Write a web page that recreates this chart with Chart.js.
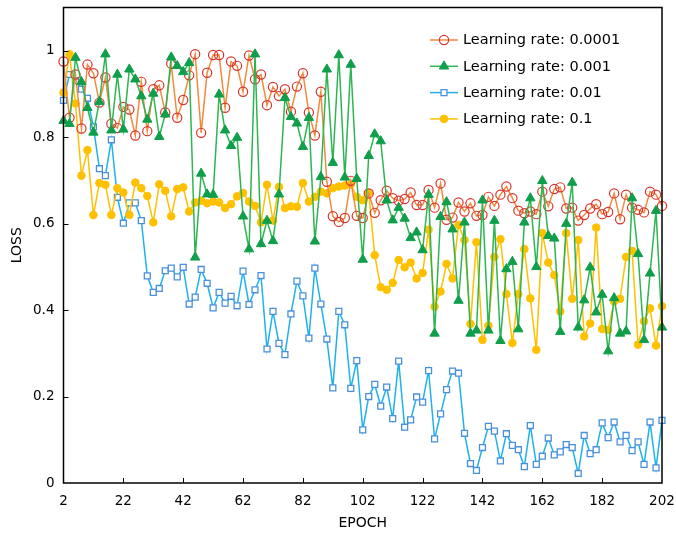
<!DOCTYPE html>
<html>
<head>
<meta charset="utf-8">
<script src="https://cdn.jsdelivr.net/npm/chart.js@4/dist/chart.umd.min.js"></script>
<style>
  html, body { margin: 0; padding: 0; background: #fff; }
  #wrap { width: 676px; height: 533px; }
</style>
</head>
<body>
<div id="wrap"><canvas id="c" width="676" height="533"></canvas></div>
<script>
// Training epochs (x positions of every sample)
const epochs = [2,4,6,8,10,12,14,16,18,20,22,24,26,28,30,32,34,36,38,40,
  42,44,46,48,50,52,54,56,58,60,62,64,66,68,70,72,74,76,78,80,
  82,84,86,88,90,92,94,96,98,100,102,104,106,108,110,112,114,116,118,120,
  122,124,126,128,130,132,134,136,138,140,142,144,146,148,150,152,154,156,158,160,
  162,164,166,168,170,172,174,176,178,180,182,184,186,188,190,192,194,196,198,200,202];

const xTicks = [2,22,42,62,82,102,122,142,162,182,202];
const yTicks = [0,0.2,0.4,0.6,0.8,1];

const labels = ['Learning rate: 0.0001','Learning rate: 0.001','Learning rate: 0.01','Learning rate: 0.1'];

// Loss per epoch, learning rate 0.0001
const loss_lr1e4 = [0.975,0.845,0.945,0.820,0.968,0.948,0.880,0.938,0.831,0.821,
  0.870,0.864,0.804,0.928,0.814,0.911,0.920,0.857,0.970,0.845,
  0.886,0.943,0.992,0.810,0.949,0.990,0.990,0.868,0.975,0.965,
  0.905,0.989,0.934,0.945,0.874,0.916,0.895,0.911,0.859,0.917,
  0.948,0.857,0.804,0.905,0.697,0.617,0.604,0.613,0.699,0.618,
  0.613,0.670,0.625,0.654,0.676,0.659,0.653,0.657,0.672,0.643,
  0.643,0.678,0.637,0.693,0.609,0.614,0.649,0.628,0.647,0.618,
  0.620,0.662,0.641,0.667,0.686,0.659,0.630,0.624,0.628,0.622,
  0.674,0.640,0.680,0.684,0.635,0.637,0.607,0.620,0.635,0.645,
  0.622,0.627,0.670,0.610,0.667,0.637,0.632,0.626,0.674,0.667,0.641];

// Loss per epoch, learning rate 0.001
const loss_lr1e3 = [0.838,0.831,0.984,0.928,0.868,0.811,0.882,0.992,0.816,0.945,
  0.818,0.957,0.934,0.895,0.841,0.901,0.801,0.853,0.985,0.965,
  0.951,0.972,0.522,0.716,0.668,0.667,0.899,0.816,0.780,0.799,
  0.617,0.541,0.992,0.553,0.607,0.560,0.668,0.891,0.847,0.832,
  0.778,0.845,0.559,0.708,0.957,0.741,0.990,0.707,0.968,0.704,
  0.517,0.757,0.807,0.791,0.654,0.608,0.637,0.612,0.567,0.580,
  0.539,0.667,0.346,0.616,0.650,0.587,0.422,0.603,0.346,0.353,
  0.654,0.353,0.607,0.329,0.495,0.512,0.356,0.603,0.659,0.500,
  0.699,0.572,0.566,0.350,0.600,0.695,0.360,0.423,0.499,0.395,
  0.436,0.305,0.428,0.346,0.351,0.659,0.530,0.331,0.485,0.630,0.360];

// Loss per epoch, learning rate 0.01
const loss_lr1e2 = [0.885,0.945,0.931,0.911,0.890,0.824,0.727,0.711,0.794,0.661,
  0.601,0.648,0.648,0.607,0.479,0.441,0.450,0.491,0.497,0.477,
  0.499,0.414,0.430,0.494,0.462,0.405,0.441,0.416,0.432,0.410,
  0.490,0.413,0.447,0.480,0.310,0.397,0.323,0.297,0.391,0.467,
  0.433,0.335,0.497,0.414,0.333,0.220,0.397,0.366,0.219,0.283,
  0.123,0.200,0.228,0.178,0.222,0.149,0.282,0.129,0.146,0.199,
  0.187,0.260,0.102,0.160,0.216,0.259,0.254,0.115,0.045,0.029,
  0.082,0.131,0.120,0.051,0.114,0.087,0.077,0.038,0.133,0.043,
  0.062,0.104,0.065,0.072,0.089,0.082,0.022,0.110,0.068,0.077,
  0.139,0.105,0.141,0.095,0.110,0.075,0.095,0.043,0.141,0.035,0.145];

// Loss per epoch, learning rate 0.1
const loss_lr1e1 = [0.903,0.992,0.878,0.711,0.770,0.620,0.694,0.690,0.620,0.682,
  0.672,0.620,0.695,0.682,0.664,0.603,0.691,0.676,0.617,0.680,
  0.684,0.628,0.649,0.653,0.647,0.651,0.649,0.636,0.645,0.663,
  0.671,0.651,0.641,0.603,0.690,0.607,0.685,0.636,0.640,0.639,
  0.694,0.651,0.662,0.674,0.670,0.682,0.686,0.688,0.691,0.662,
  0.654,0.671,0.527,0.453,0.447,0.463,0.516,0.499,0.510,0.473,
  0.486,0.586,0.408,0.443,0.507,0.473,0.597,0.562,0.368,0.557,
  0.331,0.364,0.523,0.564,0.437,0.324,0.437,0.541,0.427,0.308,
  0.578,0.510,0.481,0.397,0.578,0.426,0.562,0.339,0.369,0.591,
  0.356,0.354,0.420,0.426,0.523,0.537,0.320,0.374,0.404,0.318,0.409];

const toPoints = arr => epochs.map((e, i) => ({ x: e, y: arr[i] }));

const FONT = 'DejaVu Sans, Verdana, sans-serif';
Chart.defaults.font.family = FONT;
Chart.defaults.color = '#000';

const series = [
  { label: labels[0], data: loss_lr1e4, line: '#F28A3E', marker: '#D9342B', fill: 'rgba(255,255,255,0)', style: 'circle', r: 4.6, bw: 1.2, order: 2 },
  { label: labels[1], data: loss_lr1e3, line: '#2DB552', marker: '#0F9E4A', fill: '#0F9E4A', style: 'triangle', r: 5.4, bw: 1, order: 1 },
  { label: labels[2], data: loss_lr1e2, line: '#1DB2EC', marker: '#4A8FDC', fill: '#ffffff', style: 'rect', r: 4.2, bw: 1.3, order: 4 },
  { label: labels[3], data: loss_lr1e1, line: '#FFC000', marker: '#FFC000', fill: '#FFC000', style: 'circle', r: 3.8, bw: 1, order: 3 }
];

// Draws one marker shape the same way the datasets do
function marker(ctx, s, x, y) {
  ctx.save();
  ctx.beginPath();
  if (s.style === 'circle') {
    ctx.arc(x, y, s.r, 0, Math.PI * 2);
  } else if (s.style === 'triangle') {
    const r = s.r;
    ctx.moveTo(x, y - r);
    ctx.lineTo(x + r * Math.sin(Math.PI * 2 / 3), y - r * Math.cos(Math.PI * 2 / 3));
    ctx.lineTo(x + r * Math.sin(Math.PI * 4 / 3), y - r * Math.cos(Math.PI * 4 / 3));
    ctx.closePath();
  } else {
    const h = s.r * Math.SQRT1_2;
    ctx.rect(x - h, y - h, 2 * h, 2 * h);
  }
  ctx.fillStyle = s.fill;
  ctx.fill();
  ctx.lineWidth = s.bw;
  ctx.strokeStyle = s.marker;
  ctx.stroke();
  ctx.restore();
}

// Box around the plot area with inward tick marks
const framePlugin = {
  id: 'frame',
  afterDraw(chart) {
    const { ctx, chartArea: a, scales } = chart;
    ctx.save();
    ctx.strokeStyle = '#000';
    ctx.lineWidth = 1.5;
    ctx.strokeRect(a.left, a.top, a.right - a.left, a.bottom - a.top);
    ctx.lineWidth = 1;
    ctx.beginPath();
    scales.x.ticks.forEach(t => {
      const px = Math.round(scales.x.getPixelForValue(t.value)) + 0.5;
      if (px > a.left + 2 && px < a.right - 2) { ctx.moveTo(px, a.bottom); ctx.lineTo(px, a.bottom - 5); }
    });
    scales.y.ticks.forEach(t => {
      const py = Math.round(scales.y.getPixelForValue(t.value)) + 0.5;
      if (py < a.bottom - 2 && py > a.top + 2) { ctx.moveTo(a.left, py); ctx.lineTo(a.left + 5, py); }
    });
    ctx.stroke();
    ctx.restore();
  }
};

// Legend drawn inside the plot, upper right
const legendPlugin = {
  id: 'innerLegend',
  afterDraw(chart) {
    const { ctx } = chart;
    const x0 = 430, x1 = 458, tx = 463, y0 = 40, dy = 26.3;
    ctx.save();
    ctx.font = '14.5px ' + FONT;
    ctx.textBaseline = 'middle';
    ctx.textAlign = 'left';
    series.forEach((s, i) => {
      const y = y0 + i * dy;
      ctx.beginPath();
      ctx.moveTo(x0, y); ctx.lineTo(x1, y);
      ctx.strokeStyle = s.line; ctx.lineWidth = 1.5; ctx.stroke();
      marker(ctx, s, (x0 + x1) / 2, y);
      ctx.fillStyle = '#000';
      ctx.fillText(s.label, tx, y + 0.5);
    });
    ctx.restore();
  }
};

new Chart(document.getElementById('c'), {
  type: 'line',
  data: {
    datasets: series.map(s => ({
      label: s.label,
      data: toPoints(s.data),
      borderColor: s.line,
      borderWidth: 1.5,
      pointStyle: s.style,
      pointRadius: s.r,
      pointBorderColor: s.marker,
      pointBackgroundColor: s.fill,
      pointBorderWidth: s.bw,
      tension: 0,
      fill: false,
      clip: 8,
      order: s.order
    }))
  },
  options: {
    responsive: false,
    animation: false,
    events: [],
    layout: { padding: { top: 7.5, right: 14, left: 0, bottom: 0 } },
    plugins: { legend: { display: false }, tooltip: { enabled: false } },
    scales: {
      x: {
        type: 'linear',
        min: 2, max: 202,
        afterBuildTicks: s => { s.ticks = xTicks.map(v => ({ value: v })); },
        afterFit: s => { s.height = 50; s.paddingLeft = 0; s.paddingRight = 0; },
        grid: { display: false, drawTicks: false },
        border: { display: false },
        ticks: { padding: 10, autoSkip: false, maxRotation: 0, font: { size: 13.5 }, color: '#000' },
        title: { display: true, text: 'EPOCH', font: { size: 14 }, color: '#000', padding: { top: 0, bottom: 1 } }
      },
      y: {
        min: 0, max: 1.1,
        afterBuildTicks: s => { s.ticks = yTicks.map(v => ({ value: v })); },
        afterFit: s => { s.width = 63.5; s.paddingTop = 0; s.paddingBottom = 0; },
        grid: { display: false, drawTicks: false },
        border: { display: false },
        ticks: { padding: 9, font: { size: 13.5 }, color: '#000', callback: v => String(Number(v.toFixed(1))) },
        title: { display: true, text: 'LOSS', font: { size: 14 }, color: '#000', padding: { top: 9, bottom: 0 } }
      }
    }
  },
  plugins: [framePlugin, legendPlugin]
});
</script>
</body>
</html>
